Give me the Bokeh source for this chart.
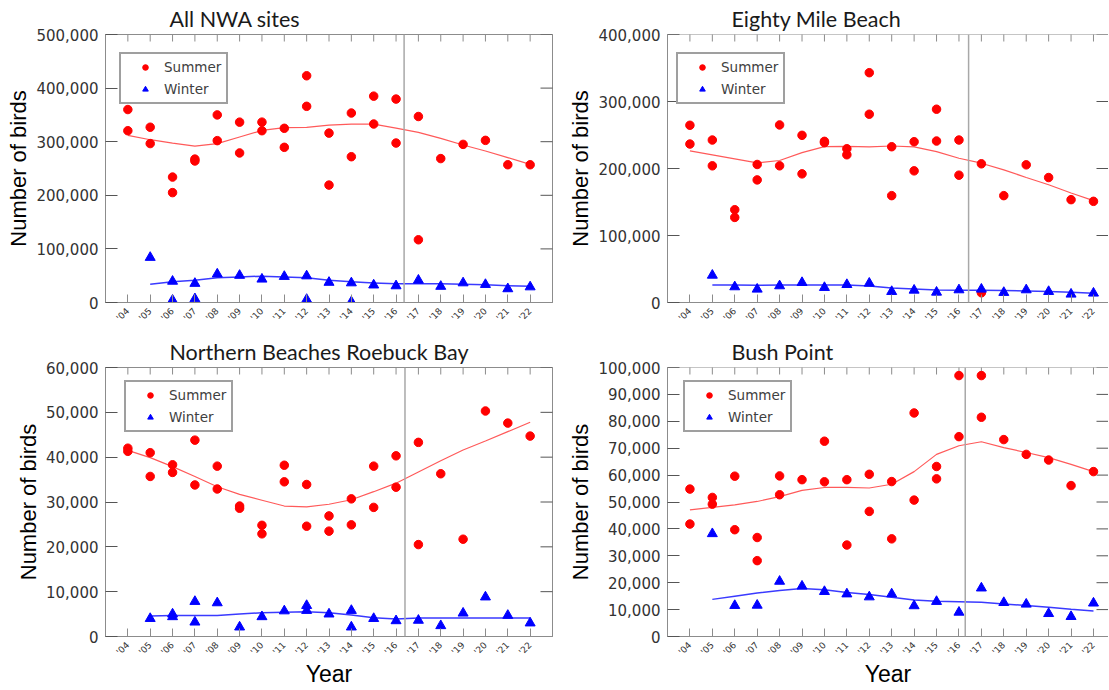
import math
from bokeh.plotting import figure
from bokeh.models import (Range1d, FixedTicker, NumeralTickFormatter,
                          Span, Legend, LegendItem)
from bokeh.layouts import row, column
from bokeh.embed import file_html
from bokeh.resources import INLINE

# ---------------- data ----------------
years = list(range(2004, 2023))
year_labels = ["'%02d" % (y % 100) for y in years]
winter_years = list(range(2005, 2023))

# All NWA sites
nwa_summer_x = [2004, 2004, 2005, 2005, 2006, 2006, 2007, 2007, 2008, 2008, 2009, 2009, 2010, 2010,
                2011, 2011, 2012, 2012, 2013, 2013, 2014, 2014, 2015, 2015, 2016, 2016, 2017, 2017,
                2018, 2019, 2020, 2021, 2022]
nwa_summer_y = [360000, 320500, 327000, 296500, 234000, 205000, 267500, 264000, 350000, 302000,
                336500, 279000, 336500, 320500, 325000, 289500, 423000, 366000, 316000, 219000,
                353500, 272000, 385000, 333000, 379500, 297500, 347000, 117000, 268500, 295000,
                302500, 257000, 257000]
nwa_winter_x = [2005, 2006, 2006, 2007, 2007, 2008, 2009, 2010, 2011, 2012, 2012, 2013, 2014, 2014,
                2015, 2016, 2017, 2018, 2019, 2020, 2021, 2022]
nwa_winter_y = [84000, 39500, 4300, 35500, 6800, 53000, 50500, 43500, 48500, 49500, 5600, 37500,
                36500, 1200, 32500, 31000, 41500, 30000, 36500, 33500, 25500, 29000]
nwa_trend_summer = [311800, 303700, 297500, 291900, 296300, 308700, 321100, 326100, 326700, 331000,
                    332900, 332900, 325400, 317400, 306200, 293800, 282600, 270200, 257800]
nwa_trend_winter = [34200, 38500, 41600, 46000, 47800, 49100, 47800, 46000, 41600, 38500, 36600,
                    34800, 34800, 34800, 34200, 32900, 31100, 30400]

# Eighty Mile Beach
emb_summer_x = [2004, 2004, 2005, 2005, 2006, 2006, 2007, 2007, 2008, 2008, 2009, 2009, 2010, 2010,
                2011, 2011, 2012, 2012, 2013, 2013, 2014, 2014, 2015, 2015, 2016, 2016, 2017, 2017,
                2018, 2019, 2020, 2021, 2022]
emb_summer_y = [264500, 236500, 242500, 204000, 138500, 127000, 206000, 183000, 265000, 204000,
                249500, 192000, 240500, 238500, 229500, 220500, 343000, 281000, 232500, 159500,
                240000, 196500, 288500, 241000, 242500, 190000, 207000, 14500, 159500, 205500,
                186500, 153500, 151000]
emb_winter_x = winter_years
emb_winter_y = [40600, 23300, 19800, 24800, 29700, 22300, 26700, 28700, 16300, 18300, 15300, 18800,
                19800, 14900, 18800, 16300, 12400, 13900]
emb_trend_summer = [226200, 220300, 214300, 208400, 211900, 223700, 232700, 233100, 232200, 233600,
                    232200, 225200, 215300, 207900, 198000, 186600, 175700, 163400, 152000]
emb_trend_winter = [26200, 26200, 25700, 26200, 26200, 26200, 26200, 24800, 21800, 20300, 18800,
                    18300, 18300, 17800, 17300, 16300, 15300, 13900]

# Northern Beaches Roebuck Bay
nb_summer_x = [2004, 2004, 2005, 2005, 2006, 2006, 2007, 2007, 2008, 2008, 2009, 2009, 2010, 2010,
               2011, 2011, 2012, 2012, 2013, 2013, 2014, 2014, 2015, 2015, 2016, 2016, 2017, 2017,
               2018, 2019, 2020, 2021, 2022]
nb_summer_y = [42000, 41300, 41000, 35700, 38300, 36600, 43800, 33800, 38000, 32900, 29100, 28600,
               24800, 22900, 38200, 34500, 33900, 24600, 26900, 23500, 30700, 24900, 38000, 28800,
               40300, 33300, 43300, 20500, 36300, 21700, 50300, 47600, 44700]
nb_winter_x = [2005, 2006, 2006, 2007, 2007, 2008, 2009, 2010, 2011, 2012, 2012, 2013, 2014, 2014,
               2015, 2016, 2017, 2018, 2019, 2020, 2021, 2022]
nb_winter_y = [4000, 5000, 4400, 7800, 3200, 7500, 2100, 4400, 5700, 6900, 5800, 5000, 5800, 2100,
               4000, 3500, 3600, 2400, 5200, 8800, 4700, 3000]
nb_trend_summer = [41500, 39900, 37900, 35700, 33400, 31700, 30400, 29100, 28900, 29500, 30500,
                   32300, 34200, 36700, 39200, 41600, 43600, 45700, 47800]
nb_trend_winter = [4600, 4700, 4700, 4700, 5000, 5300, 5400, 5500, 5300, 4800, 4200, 3900, 4100,
                   4100, 4100, 4100, 4100, 4100]

# Bush Point
bp_summer_x = [2004, 2004, 2005, 2005, 2006, 2006, 2007, 2007, 2008, 2008, 2009, 2010, 2010, 2011,
               2011, 2012, 2012, 2013, 2013, 2014, 2014, 2015, 2015, 2016, 2016, 2017, 2017, 2018,
               2019, 2020, 2021, 2022]
bp_summer_y = [54800, 41800, 51700, 49200, 59600, 39700, 36800, 28200, 59700, 52700, 58300, 72600,
               57500, 58300, 34000, 60300, 46500, 57600, 36300, 83100, 50700, 63200, 58600, 97000,
               74300, 97000, 81500, 73200, 67700, 65600, 56100, 61300]
bp_winter_x = winter_years
bp_winter_y = [38200, 11500, 11600, 20500, 18700, 16700, 15800, 14700, 15800, 11400, 13000, 9000,
               18000, 12600, 12000, 8500, 7400, 12400]
bp_trend_summer = [47100, 48000, 48900, 50200, 52000, 54300, 55400, 55400, 55200, 56600, 61300,
                   67700, 70900, 72400, 70200, 68400, 66500, 64000, 61300]
bp_trend_winter = [13800, 15000, 16200, 17100, 17800, 17400, 16400, 15600, 14600, 13600, 13100,
                   12900, 12700, 12100, 11500, 10900, 10100, 9500]

# ---------------- styling ----------------
FRAME = "#8c8c8c"
YTICK = "#555555"
TICK_FONT = "DejaVu Sans"
LABEL_FONT = "Liberation Sans"
TITLE_FONT = "Lato"


def make_panel(title, ymax, ystep, sx, sy, wx, wy, ts, tw, width, height,
               mbl, mbr, mbt, mbb, xend, xlabel, vline, legend_loc, full_frame):
    p = figure(width=width, height=height, x_range=Range1d(2003, xend),
               y_range=Range1d(0, ymax), output_backend="svg", toolbar_location=None,
               min_border_left=mbl, min_border_right=mbr, min_border_top=mbt,
               min_border_bottom=mbb,
               outline_line_color=FRAME if full_frame else None,
               background_fill_color="white", border_fill_color="white")
    p.xgrid.visible = False
    p.ygrid.visible = False

    p.title.text = title
    p.title.text_font = TITLE_FONT
    p.title.text_font_size = "21.5px"
    p.title.text_font_style = "normal"
    p.title.text_color = "#1a1a1a"
    p.title.align = "left"
    p.title.offset = 64
    p.title.standoff = 5

    yticks = list(range(0, ymax + 1, ystep))

    # bottom axis
    xa = p.xaxis[0]
    xa.ticker = FixedTicker(ticks=years)
    xa.major_label_overrides = {y: l for y, l in zip(years, year_labels)}
    xa.major_label_orientation = math.pi / 4
    xa.major_label_text_font = TICK_FONT
    xa.major_label_text_font_size = "9px"
    xa.major_label_text_color = "#333333"
    xa.major_label_standoff = 7
    xa.major_tick_in = 8
    xa.major_tick_out = 0
    xa.minor_tick_line_color = None
    xa.major_tick_line_color = FRAME
    xa.axis_line_color = FRAME
    if xlabel:
        xa.axis_label = xlabel
        xa.axis_label_text_font = LABEL_FONT
        xa.axis_label_text_font_size = "23px"
        xa.axis_label_text_font_style = "normal"
        xa.axis_label_text_color = "#000000"
        xa.axis_label_standoff = -2

    # left axis
    ya = p.yaxis[0]
    ya.ticker = FixedTicker(ticks=yticks)
    ya.formatter = NumeralTickFormatter(format="0,0")
    ya.major_label_text_font = TICK_FONT
    ya.major_label_text_font_size = "15px"
    ya.major_label_text_color = "#333333"
    ya.major_label_standoff = 7
    ya.major_tick_in = 12
    ya.major_tick_out = 0
    ya.minor_tick_line_color = None
    ya.major_tick_line_color = YTICK
    ya.axis_line_color = FRAME
    ya.axis_label = "Number of birds"
    ya.axis_label_text_font = LABEL_FONT
    ya.axis_label_text_font_size = "22px"
    ya.axis_label_text_font_style = "normal"
    ya.axis_label_text_color = "#000000"
    ya.axis_label_standoff = 2

    if not full_frame:
        p.add_layout(Span(location=ymax, dimension="width", line_color=FRAME, line_width=1))

    # inward ticks on the top edge and right edge (half of each dash lies outside the frame)
    p.scatter(years, [ymax] * len(years), marker="dash", angle=math.pi / 2, size=14,
              line_color=FRAME, line_width=1)
    p.scatter([xend] * len(yticks), yticks, marker="dash", size=24,
              line_color=YTICK, line_width=1)

    p.add_layout(Span(location=vline, dimension="height", line_color="#a8a8a8",
                      line_width=1.5))

    p.line(years, ts, line_color="#ff5a5a", line_width=1.2)
    p.line(winter_years, tw, line_color="#3a3aff", line_width=1.5)
    rs = p.scatter(sx, sy, marker="circle", size=8.5, fill_color="#ff0000", line_color="#ff0000")
    rw = p.scatter(wx, wy, marker="triangle", size=10, fill_color="#0000ff", line_color="#0000ff")

    leg = Legend(items=[LegendItem(label="Summer", renderers=[rs]),
                        LegendItem(label="Winter", renderers=[rw])],
                 location=legend_loc, orientation="vertical",
                 border_line_color="#404040", border_line_width=2,
                 background_fill_color="white", background_fill_alpha=1.0,
                 label_text_font=TICK_FONT, label_text_font_size="13.5px",
                 label_text_color="#404040", padding=5, spacing=6,
                 glyph_width=38, glyph_height=14, label_height=14, label_standoff=0,
                 margin=0)
    p.add_layout(leg)
    return p


# legend (x, y) measured in px from the frame's bottom-left corner
p1 = make_panel("All NWA sites", 500000, 100000, nwa_summer_x, nwa_summer_y,
                nwa_winter_x, nwa_winter_y, nwa_trend_summer, nwa_trend_winter,
                560, 330, 105, 8, 34, 28, 2023, None, 2016.36, (14, 198), True)
p2 = make_panel("Eighty Mile Beach", 400000, 100000, emb_summer_x, emb_summer_y,
                emb_winter_x, emb_winter_y, emb_trend_summer, emb_trend_winter,
                548, 330, 107, 0, 34, 28, 2022.67, None, 2016.43, (9, 198), False)
p3 = make_panel("Northern Beaches Roebuck Bay", 60000, 10000, nb_summer_x, nb_summer_y,
                nb_winter_x, nb_winter_y, nb_trend_summer, nb_trend_winter,
                560, 360, 105, 8, 37, 54, 2023, "Year", 2016.4, (19, 204), True)
p4 = make_panel("Bush Point", 100000, 10000, bp_summer_x, bp_summer_y,
                bp_winter_x, bp_winter_y, bp_trend_summer, bp_trend_winter,
                548, 360, 107, 0, 37, 54, 2022.67, "Year", 2016.28, (16, 204), False)

layout = column(row(p1, p2), row(p3, p4))
open("out.html", "w").write(file_html(layout, INLINE))
